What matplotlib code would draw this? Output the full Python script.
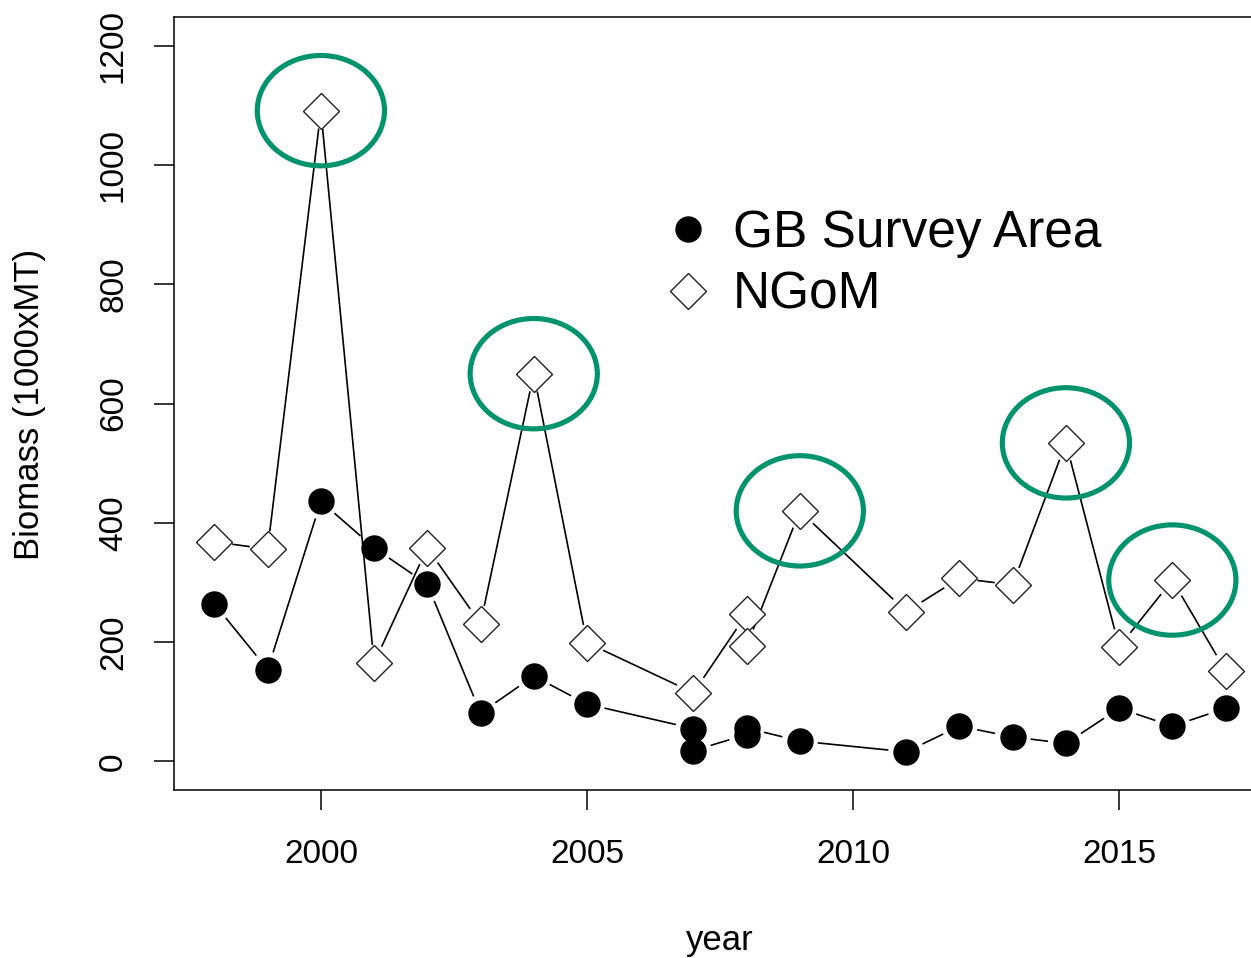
import numpy as np
import matplotlib
matplotlib.use('Agg')
import matplotlib.pyplot as plt
from matplotlib.collections import LineCollection
from matplotlib.patches import Ellipse

plt.rcParams['font.family'] = ['Liberation Sans', 'DejaVu Sans']

# survey biomass (1000 x MT); some years have two surveys
gb_years = [1998, 1999, 2000, 2001, 2002, 2003, 2004, 2005, 2007, 2007,
            2008, 2008, 2009, 2011, 2012, 2013, 2014, 2015, 2016, 2017]
gb_biomass = [264, 154, 436, 358, 297, 81, 143, 96, 55, 18,
              45, 56, 34, 16, 59, 41, 30, 89, 59, 89]

ngom_years = [1998, 1999, 2000, 2001, 2002, 2003, 2004, 2005, 2007, 2008,
              2008, 2009, 2011, 2012, 2013, 2014, 2015, 2016, 2017]
ngom_biomass = [368, 356, 1091, 165, 358, 231, 650, 199, 115, 247,
                193, 420, 251, 307, 296, 534, 192, 304, 152]

# NGoM peaks that get ringed
peak_years = [2000, 2004, 2009, 2014, 2016]

x_ticks = [2000, 2005, 2010, 2015]
y_ticks = [0, 200, 400, 600, 800, 1000, 1200]

ring_color = '#00936E'
tick_size = 24
label_size = 25
legend_size = 37

W, H = 1251, 958
fig = plt.figure(figsize=(W / 100., H / 100.), dpi=100)
ax = fig.add_axes([174. / W, 1 - 790. / H, (1266. - 174.) / W, (790. - 17.) / H])

# R-style 4% padding around the data range
x0, x1 = min(gb_years), max(gb_years)
pad = 0.04 * (x1 - x0)
ax.set_xlim(x0 - pad, x1 + pad)
ax.set_ylim(-0.04 * 1200, 1200 * 1.04)


def gapped_line(x, y, gap=18.):
    """Segments between points, trimmed by gap pixels at each end (type='b')."""
    pts = ax.transData.transform(np.column_stack([x, y]))
    inv = ax.transData.inverted()
    segs = []
    for a, b in zip(pts[:-1], pts[1:]):
        d = b - a
        L = np.hypot(*d)
        if L <= 2 * gap + 2:
            continue
        u = d / L
        segs.append(inv.transform(np.array([a + u * gap, b - u * gap])))
    ax.add_collection(LineCollection(segs, colors='k', linewidths=1.2, zorder=2))


gapped_line(gb_years, gb_biomass)
gapped_line(ngom_years, ngom_biomass)

gb_pts, = ax.plot(gb_years, gb_biomass, linestyle='none', marker='o',
                  markersize=18, color='k', zorder=3, label='GB Survey Area')
ngom_pts, = ax.plot(ngom_years, ngom_biomass, linestyle='none', marker='D',
                    markersize=18.3, markerfacecolor='white',
                    markeredgecolor='#222222', markeredgewidth=1.0, zorder=3,
                    label='NGoM')

for yr in peak_years:
    val = ngom_biomass[ngom_years.index(yr)]
    ax.add_patch(Ellipse((yr, val), width=2.39, height=185, fill=False,
                         edgecolor=ring_color, linewidth=3.7, zorder=5))

ax.set_xticks(x_ticks)
ax.set_yticks(y_ticks)
ax.tick_params(axis='both', direction='out', length=14.4, width=1.1,
               labelsize=tick_size, colors='k')
ax.tick_params(axis='x', pad=21)
ax.tick_params(axis='y', pad=18)
for lab in ax.get_yticklabels():
    lab.set_rotation(90)
    lab.set_va('center')
for side in ['left', 'bottom', 'top']:
    ax.spines[side].set_linewidth(1.1)
ax.spines['right'].set_visible(False)

fig.text(30. / W, 1 - 404. / H, 'Biomass (1000xMT)', rotation=90,
         ha='center', va='center', fontsize=label_size)
fig.text(720. / W, 1 - 950. / H, 'year', ha='center', va='baseline',
         fontsize=label_size)

ax.legend(handles=[gb_pts, ngom_pts], loc='upper left',
          bbox_to_anchor=(667. / W, 1 - 209. / H),
          bbox_transform=fig.transFigure, frameon=False,
          fontsize=legend_size, handlelength=0.8, handletextpad=0.48,
          labelspacing=0.25, borderpad=0, borderaxespad=0, numpoints=1)

fig.savefig('out.png', dpi=100)
